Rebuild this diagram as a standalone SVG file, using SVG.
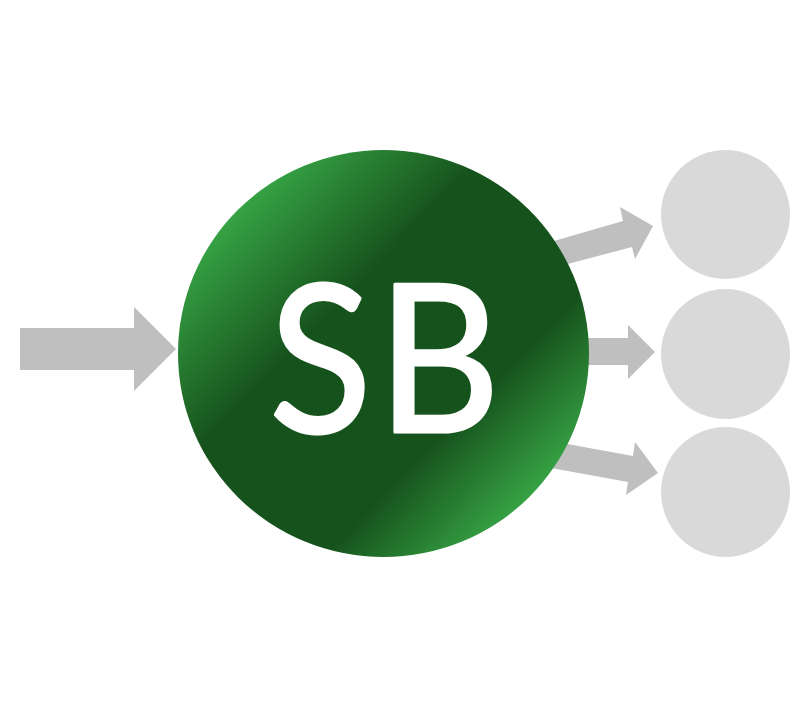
<svg xmlns="http://www.w3.org/2000/svg" width="808" height="706" viewBox="0 0 808 706">
<style>.a{fill:#bfbfbf}.o{fill:#d9d9d9}.t{font-family:Lato,"Open Sans",sans-serif;font-size:206px;fill:#fff;stroke:#fff;stroke-width:3;stroke-linejoin:round}</style>
<defs><linearGradient id="g" gradientUnits="userSpaceOnUse" x1="238" y1="210" x2="530" y2="497"><stop offset="0" stop-color="#36a244"/><stop offset=".34" stop-color="#16521c"/><stop offset=".74" stop-color="#16521c"/><stop offset="1" stop-color="#36a244"/></linearGradient></defs>
<g id="connectors">
<polygon class="a" points="540,245 623,221 620,207 653,226 635,259 632,247 545,270"/>
<polygon class="a" points="20,328 134,328 134,307 176,349 134,391 134,370 20,370"/>
<polygon class="a" points="580,338 628,338 628,325 655,352 628,379 628,365 580,365"/>
<polygon class="a" points="540,439 633,456 635,442 658,473 626,495 628,482 540,466"/>
</g>
<g id="node-sb"><ellipse cx="383.500" cy="353.500" rx="205.500" ry="203.500" fill="url(#g)"/><text class="t" transform="translate(384.500 432) scale(.92 1)" text-anchor="middle">S<tspan dx="6">B</tspan></text></g>
<g id="node-1"><ellipse class="o" cx="725.500" cy="214.500" rx="64.500" ry="64.500"/></g>
<g id="node-2"><ellipse class="o" cx="725.500" cy="354" rx="64.500" ry="65"/></g>
<g id="node-3"><ellipse class="o" cx="725.500" cy="492" rx="64.500" ry="65"/></g>
</svg>
